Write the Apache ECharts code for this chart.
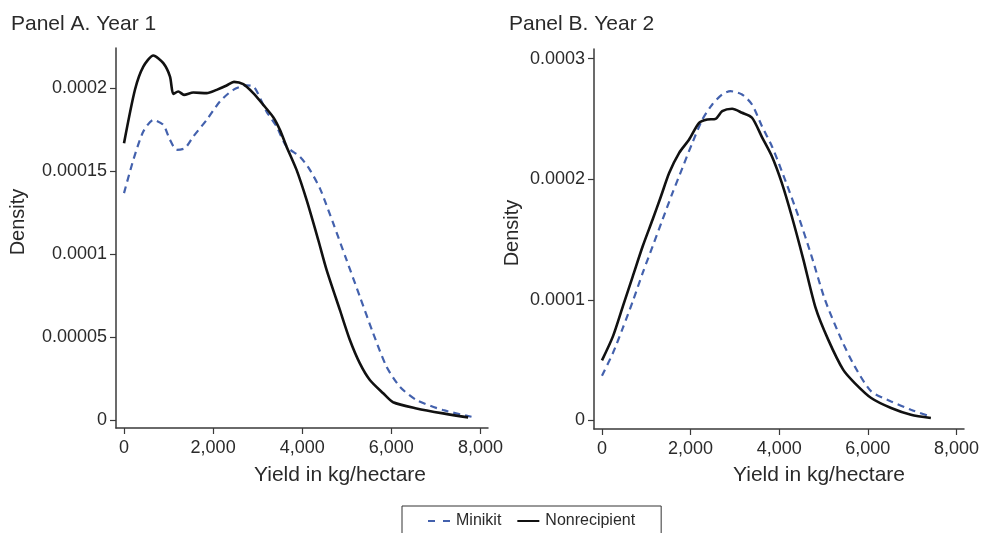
<!DOCTYPE html>
<html>
<head>
<meta charset="utf-8">
<script src="https://cdn.jsdelivr.net/npm/echarts@6/dist/echarts.min.js"></script>
<style>
html,body{margin:0;padding:0;background:#fff;}
#chart{width:982px;height:533px;}
</style>
</head>
<body>
<div id="chart"></div>
<script>
// ---- Data ----
var panelTitles = ['Panel A. Year 1', 'Panel B. Year 2'];
var seriesNames = ['Minikit', 'Nonrecipient'];
var xTicks = [0, 2000, 4000, 6000, 8000];
var xTickLabels = ['0', '2,000', '4,000', '6,000', '8,000'];
var yTicksA = [0, 0.00005, 0.0001, 0.00015, 0.0002];
var yTickLabelsA = ['0', '0.00005', '0.0001', '0.00015', '0.0002'];
var yTicksB = [0, 0.0001, 0.0002, 0.0003];
var yTickLabelsB = ['0', '0.0001', '0.0002', '0.0003'];
var xAxisTitle = 'Yield in kg/hectare';
var yAxisTitle = 'Density';

// Panel A (Year 1): [yield, density]
var aMinikit = [[0,0.0001366],[209,0.0001566],[433,0.0001737],[658,0.0001807],[882,0.0001777],[1032,0.0001687],[1181,0.0001627],[1368,0.0001637],[1555,0.0001707],[1855,0.0001807],[2153,0.0001918],[2452,0.0001988],[2752,0.0002015],[2924,0.0002004],[3200,0.0001857],[3425,0.0001767],[3649,0.0001646],[3948,0.0001586],[4172,0.0001506],[4397,0.0001395],[4584,0.0001265],[4695,0.0001185],[4995,0.0000964],[5294,0.0000743],[5593,0.0000522],[5893,0.0000321],[6191,0.0000201],[6566,0.0000120],[7163,0.0000060],[7800,0.0000020]];
var aNonrecipient = [[0,0.0001667],[247,0.000199],[433,0.0002128],[658,0.0002195],[882,0.0002149],[1032,0.0002068],[1106,0.0001964],[1218,0.0001978],[1346,0.0001958],[1555,0.0001972],[1855,0.0001968],[2079,0.0001988],[2303,0.0002014],[2468,0.0002036],[2677,0.0002022],[2901,0.0001968],[3125,0.0001898],[3350,0.0001823],[3499,0.0001747],[3649,0.0001646],[3873,0.0001506],[4098,0.0001325],[4360,0.0001084],[4547,0.0000904],[4845,0.0000663],[5070,0.0000482],[5294,0.0000341],[5518,0.0000241],[5817,0.0000161],[6041,0.0000107],[6566,0.0000070],[7163,0.0000040],[7724,0.0000016]];
// Panel B (Year 2)
var bMinikit = [[0,0.0000371],[247,0.0000559],[471,0.0000767],[695,0.0000988],[919,0.0001223],[1143,0.0001444],[1368,0.0001666],[1592,0.0001887],[1816,0.0002095],[2040,0.0002302],[2265,0.0002495],[2489,0.000262],[2713,0.0002703],[2901,0.000273],[3161,0.0002703],[3386,0.000262],[3610,0.000244],[3834,0.0002274],[4058,0.0002067],[4433,0.0001693],[4731,0.0001361],[5031,0.0001002],[5404,0.000067],[5704,0.0000448],[6076,0.0000241],[6525,0.0000158],[6973,0.0000089],[7408,0.0000033]];
var bNonrecipient = [[0,0.0000498],[247,0.0000697],[471,0.0000946],[695,0.0001195],[919,0.0001444],[1143,0.0001666],[1332,0.0001859],[1518,0.0002053],[1742,0.0002219],[1966,0.0002329],[2191,0.0002468],[2377,0.0002495],[2565,0.0002501],[2713,0.0002564],[2937,0.0002584],[3161,0.0002551],[3386,0.000251],[3610,0.000235],[3834,0.0002191],[4058,0.000197],[4283,0.0001693],[4545,0.0001334],[4821,0.0000933],[5105,0.000067],[5442,0.0000421],[5704,0.000031],[6076,0.0000186],[6525,0.0000103],[6973,0.0000047],[7422,0.000002]];

// ---- Styling ----
var FONT = 'Liberation Sans, Arial, Helvetica, sans-serif';
var TXT = '#2a2a2a';
var AXC = '#3a3a3a';
var BLUE = '#4361ad';
var BLACK = '#111111';

function labelFor(ticks, labels) {
  return function (v) {
    for (var i = 0; i < ticks.length; i++) {
      if (Math.abs(ticks[i] - v) < 1e-9) return labels[i];
    }
    return '';
  };
}

function xAxisCfg(idx) {
  return {
    type: 'value', gridIndex: idx, min: -180, max: 8170,
    axisLine: { show: true, onZero: false, lineStyle: { color: AXC, width: 1.5 } },
    axisTick: { show: true, length: 6, customValues: xTicks, lineStyle: { color: AXC, width: 1.2 } },
    axisLabel: { customValues: xTicks, formatter: labelFor(xTicks, xTickLabels), margin: 11,
      fontSize: 18, fontFamily: FONT, color: TXT },
    splitLine: { show: false }
  };
}
function yAxisCfg(idx, min, max, ticks, labels) {
  return {
    type: 'value', gridIndex: idx, min: min, max: max,
    axisLine: { show: true, onZero: false, lineStyle: { color: AXC, width: 1.5 } },
    axisTick: { show: true, length: 6, customValues: ticks, lineStyle: { color: AXC, width: 1.2 } },
    axisLabel: { customValues: ticks, formatter: labelFor(ticks, labels), margin: 9,
      fontSize: 18, fontFamily: FONT, color: TXT },
    splitLine: { show: false }
  };
}
function lineSeries(name, data, idx) {
  var isMini = name === seriesNames[0];
  return {
    type: 'line', name: name, xAxisIndex: idx, yAxisIndex: idx,
    data: data, symbol: 'none', smooth: 0.25, silent: true, animation: false,
    lineStyle: isMini ? { color: BLUE, width: 2.2, type: [7, 5] } : { color: BLACK, width: 2.6 },
    itemStyle: { color: isMini ? BLUE : BLACK }
  };
}

var chart = echarts.init(document.getElementById('chart'), null, { renderer: 'canvas' });
chart.setOption({
  animation: false,
  backgroundColor: '#ffffff',
  title: [
    { text: panelTitles[0], left: 6, top: 9, textStyle: { fontSize: 21, fontWeight: 'normal', fontFamily: FONT, color: TXT } },
    { text: panelTitles[1], left: 504, top: 9, textStyle: { fontSize: 21, fontWeight: 'normal', fontFamily: FONT, color: TXT } }
  ],
  grid: [
    { left: 116, top: 48, width: 372, height: 380 },
    { left: 594, top: 49, width: 372, height: 380 }
  ],
  xAxis: [xAxisCfg(0), xAxisCfg(1)],
  yAxis: [
    yAxisCfg(0, -0.0000048, 0.000224, yTicksA, yTickLabelsA),
    yAxisCfg(1, -0.0000071, 0.000308, yTicksB, yTickLabelsB)
  ],
  legend: {
    data: [
      { name: seriesNames[0], icon: 'path://M0,0h7v2h-7z M15,0h7v2h-7z', itemStyle: { color: BLUE } },
      { name: seriesNames[1], icon: 'path://M0,0h22v2h-22z', itemStyle: { color: BLACK } }
    ],
    left: 402, top: 506,
    padding: [7, 26, 12, 26],
    borderColor: '#333', borderWidth: 1,
    itemWidth: 22, itemHeight: 2.4, itemGap: 16,
    textStyle: { fontSize: 16, fontFamily: FONT, color: TXT, padding: [0, 0, 0, 1] },
    selectedMode: false
  },
  graphic: [
    { type: 'text', x: 18, y: 222, rotation: Math.PI / 2,
      style: { text: yAxisTitle, align: 'center', verticalAlign: 'middle', fontSize: 20, fontFamily: FONT, fill: TXT } },
    { type: 'text', x: 512, y: 233, rotation: Math.PI / 2,
      style: { text: yAxisTitle, align: 'center', verticalAlign: 'middle', fontSize: 20, fontFamily: FONT, fill: TXT } },
    { type: 'text', x: 340, y: 475,
      style: { text: xAxisTitle, align: 'center', verticalAlign: 'middle', fontSize: 21, fontFamily: FONT, fill: TXT } },
    { type: 'text', x: 819, y: 475,
      style: { text: xAxisTitle, align: 'center', verticalAlign: 'middle', fontSize: 21, fontFamily: FONT, fill: TXT } }
  ],
  series: [
    lineSeries(seriesNames[0], aMinikit, 0),
    lineSeries(seriesNames[1], aNonrecipient, 0),
    lineSeries(seriesNames[0], bMinikit, 1),
    lineSeries(seriesNames[1], bNonrecipient, 1)
  ]
});
</script>
</body>
</html>
